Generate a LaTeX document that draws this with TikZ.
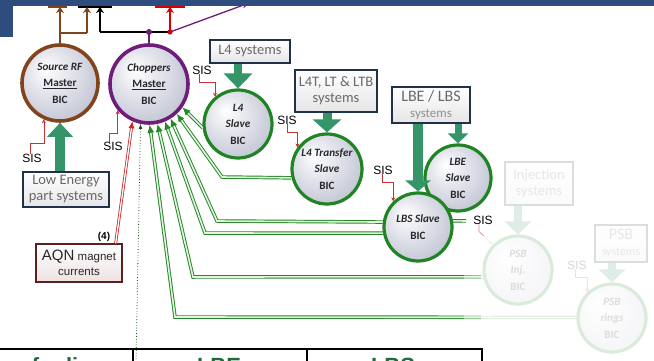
\documentclass[tikz,border=0pt]{standalone}
\usepackage{fontspec}
\setmainfont{Carlito}
\newfontfamily\arialf{Liberation Sans}
\usetikzlibrary{arrows.meta}

\definecolor{hdrblue}{RGB}{46,76,125}
\definecolor{srcbrown}{RGB}{130,68,28}
\definecolor{chpurple}{RGB}{112,28,122}
\definecolor{bicgreen}{RGB}{32,132,36}
\definecolor{feedgreen}{RGB}{52,150,104}
\definecolor{linkgreen}{RGB}{40,135,40}
\definecolor{linkfill}{RGB}{225,245,225}
\definecolor{sisred}{RGB}{196,52,52}
\definecolor{boxnavy}{RGB}{32,50,74}
\definecolor{boxtext}{RGB}{105,105,105}
\definecolor{bictext}{RGB}{40,40,44}
\definecolor{tabgreen}{RGB}{28,108,60}
\definecolor{bicmid}{RGB}{212,214,225}
\definecolor{bicedge}{RGB}{155,160,182}
\definecolor{aqnred}{RGB}{92,32,32}
\definecolor{aqnfill}{RGB}{238,226,226}
\definecolor{linkred}{RGB}{205,40,40}

\pgfdeclareradialshading{bicshade}{\pgfpoint{-10bp}{10bp}}{%
  color(0bp)=(white); color(22bp)=(bicmid); color(50bp)=(bicedge)}

\tikzset{
  bic/.style={circle, inner sep=0pt, minimum size=#1, line width=3.2pt,
    shade, shading=bicshade, align=center, text=bictext,
    font=\fontsize{11.2}{16.5}\selectfont\bfseries},
  sysbox/.style={draw=boxnavy, line width=1.3pt, top color=white,
    bottom color=black!10, align=center, inner sep=2pt, text=boxtext,
    font=\fontsize{14.5}{16}\selectfont},
  sislbl/.style={font=\arialf\fontsize{12}{12}\selectfont, inner sep=0pt, text=black},
  hook/.style={draw=sisred, line width=0.6pt, -{Stealth[length=4pt,width=4pt]}},
  feed/.style={draw=feedgreen, line width=#1},
  link/.style={draw=linkgreen, double=linkfill, double distance=1.6pt,
    line width=0.95pt, -{Latex[length=8pt,width=7pt]}},
  redlink/.style={draw=linkred, double=white, double distance=1.3pt,
    line width=0.8pt, -{Latex[length=7pt,width=6pt]}},
  dotln/.style={draw=linkgreen!60!black, line width=0.8pt, dotted,
    -{Latex[length=5pt,width=4pt]}},
  topln/.style={line width=1.8pt, -{Stealth[length=6pt,width=8pt]}},
  tabtext/.style={font=\arialf\bfseries\fontsize{22}{22}\selectfont,
    text=tabgreen, inner sep=0pt}
}

\begin{document}
\begin{tikzpicture}[x=1pt,y=-1pt]
\useasboundingbox (0,0) rectangle (654,361);
\clip (0,0) rectangle (654,361);
\fill[white] (0,0) rectangle (654,361);

% boxes peeking out under the header band
\fill[srcbrown] (48,6) rectangle (67,8);
\fill[black] (78,6) rectangle (112,8);
\fill[red!85!black] (155,6) rectangle (185,8);

% BIC circles
\node[bic=76, draw=srcbrown, line width=3.6pt] (src) at (60,83)
  {\textit{Source RF}\\\underline{Master}\\BIC};
\node[bic=78, draw=chpurple, line width=3.6pt] (chop) at (149,84)
  {\textit{Choppers}\\\underline{Master}\\BIC};
\node[bic=68, draw=bicgreen] (l4) at (238,124)
  {\textit{L4}\\\textit{Slave}\\BIC};
\node[bic=70, draw=bicgreen] (l4t) at (327,169)
  {\textit{L4 Transfer}\\\textit{Slave}\\BIC};
\node[bic=66, draw=bicgreen] (lbe) at (458,178)
  {\textit{LBE}\\\textit{Slave}\\BIC};
\node[bic=68, draw=bicgreen] (lbs) at (418,227)
  {\textit{LBS Slave}\\BIC};
\node[bic=68, draw=bicgreen] (psbinj) at (518,270)
  {\textit{PSB}\\\textit{Inj.}\\BIC};
\node[bic=68, draw=bicgreen] (psbrings) at (612,318)
  {\textit{PSB}\\\textit{rings}\\BIC};

% system boxes
\node[sysbox, minimum width=80, minimum height=23] (l4sys) at (250,51.5) {L4 systems};
\node[sysbox, minimum width=82, minimum height=42] (l4tsys) at (336,91)
  {L4T, LT \& LTB\\systems};
\node[sysbox, minimum width=78, minimum height=36] (lbesys) at (431,105)
  {{\fontsize{16}{17}\selectfont LBE / LBS}\\{\color{boxtext!75}\fontsize{13}{14}\selectfont systems}};
\node[sysbox, minimum width=86, minimum height=35] (lowsys) at (66,189.5)
  {Low Energy\\part systems};
\node[draw=aqnred, line width=1.3pt, top color=white, bottom color=aqnfill,
  align=center, minimum width=86, minimum height=38, inner sep=1pt,
  text=bictext, font=\arialf\fontsize{11.5}{15}\selectfont] (aqn) at (79,263)
  {{\fontsize{15}{15}\selectfont AQN} magnet\\currents};
\node[sysbox, minimum width=68, minimum height=43] (injsys) at (539,183.5)
  {Injection\\systems};
\node[sysbox, minimum width=52, minimum height=37] (psbsys) at (621,243.5)
  {{\fontsize{16}{17}\selectfont PSB}\\{\fontsize{12}{13}\selectfont systems}};

% feeds from the system boxes
\draw[feed=8pt, -{Triangle[length=15pt,width=28pt]}] (l4.north |- l4sys.south) -- (l4.north);
\draw[feed=9pt, -{Triangle[length=13pt,width=28pt]}] (l4t.north |- l4tsys.south) -- (l4t.north);
\draw[feed=10pt, -{Triangle[length=11pt,width=25pt]}] (lbs.north |- lbesys.south) -- (lbs.north);
\draw[feed=7pt, -{Triangle[length=10pt,width=20pt]}] (lbe.north |- lbesys.south) -- (lbe.north);
\draw[feed=10pt, -{Triangle[length=14pt,width=25pt]}] (src.south |- lowsys.north) -- (src.south);
\draw[feed=8pt, -{Triangle[length=13pt,width=26pt]}] (psbinj.north |- injsys.south) -- (psbinj.north);
\draw[feed=8pt, -{Triangle[length=13pt,width=26pt]}] (psbrings.north |- psbsys.south) -- (psbrings.north);

% slave links to the choppers master
\coordinate (k2) at (222,177);
\coordinate (k3) at (217,221);
\coordinate (k4) at (205,233);
\coordinate (k5) at (193,277);
\coordinate (k6) at (175,317);
\coordinate (st) at (466,221);
\draw[link] (l4.186) -- (chop.-35);
\draw[link] (l4t.194) -- (k2) -- (chop.-47);
\draw[link] (lbs.172) -- (k3) -- (chop.-58);
\draw[link] (lbs.190) -- (k4) -- (chop.-67);
\draw[link] (psbinj.191) -- (k5) -- (chop.-78);
\draw[link] (psbrings.179) -- (k6) -- (chop.-89);
\draw[link, -] (lbs.10) -- (st);

% dotted line and AQN input
\coordinate (dt) at (136,362);
\draw[dotln] (dt) -- (chop.-102);
\draw[redlink] ([xshift=-7pt]aqn.north east) -- (chop.-114);
\node[font=\arialf\bfseries\fontsize{10}{10}\selectfont, inner sep=0pt] (n4) at (104,237) {(4)};

% SIS labels with their hooks
\node[sislbl] (s1) at (32,158) {SIS};
\node[sislbl] (s2) at (113,146) {SIS};
\node[sislbl] (s3) at (202,70) {SIS};
\node[sislbl] (s4) at (287,120) {SIS};
\node[sislbl] (s5) at (383,170) {SIS};
\node[sislbl] (s6) at (483,220) {SIS};
\node[sislbl] (s7) at (577,265) {SIS};
\draw[hook] ([xshift=-2pt]s1.north) -- ++(0,-10) -| (src.246);
\draw[hook] ([xshift=-4pt]s2.north) -- ++(0,-8) -| (chop.220);
\draw[hook] ([xshift=-3pt]s3.south) -- ++(0,8) -| (l4.130);
\draw[hook] ([xshift=0pt]s4.south) -- ++(0,8) -| (l4t.144);
\draw[hook] ([xshift=-1pt]s5.south) -- ++(0,8) -| (lbs.134);
\draw[hook, draw=sisred!60] ([xshift=-4pt]s6.south) -- ++(0,7) -- (psbinj.135);
\draw[hook] ([xshift=-2pt]s7.south) -- ++(0,8) -| (psbrings.134);

% outputs at the top
\coordinate (tb) at (0,7);
\coordinate (bk) at (87,33);
\coordinate (bb) at (87,7);
\coordinate (kl) at (100,32);
\coordinate (kr) at (170,32);
\coordinate (pt) at (249,3);
\draw[topln, srcbrown] (src.north) -- (src.north |- tb);
\draw[line width=1.8pt, srcbrown] (src.north |- bk) -- (bk);
\draw[topln, srcbrown] (bk) -- (bb);
\draw[line width=1.8pt, chpurple] (chop.north) -- (chop.north |- kl);
\draw[line width=1.8pt, black] (kl) -- (kr);
\draw[topln, black] (kl) -- (kl |- tb);
\draw[topln, red!85!black] (kr) -- (kr |- tb);
\draw[chpurple, line width=1.3pt, -{Stealth[length=7pt,width=6pt]}] (kr) -- (pt);
\fill[chpurple] (chop.north |- kl) circle (3);
\fill[red!85!black] (kr) circle (2.6);

% header band
\fill[hdrblue] (0,0) rectangle (654,6);
\fill[hdrblue] (0,0) rectangle (13,37);

% later stages, shown faded
\fill[white, opacity=0.84] (497,150) rectangle (654,361);
\fill[white, opacity=0.84] (481,236) rectangle (497,346);
\fill[white, opacity=0.45] (464,255) rectangle (481,346);

% table heading at the bottom
\draw[line width=2pt] (-2,349) -- (483,349);
\draw[line width=1.6pt] (133,349) -- (133,365);
\draw[line width=1.6pt] (307,349) -- (307,365);
\draw[line width=2pt] (482,349) -- (482,365);
\node[tabtext, anchor=base west] (t1) at (-27,373) {Transfer lines};
\node[tabtext, anchor=base] (t2) at (219,373) {LBE};
\node[tabtext, anchor=base] (t3) at (393,373) {LBS};
\end{tikzpicture}
\end{document}
